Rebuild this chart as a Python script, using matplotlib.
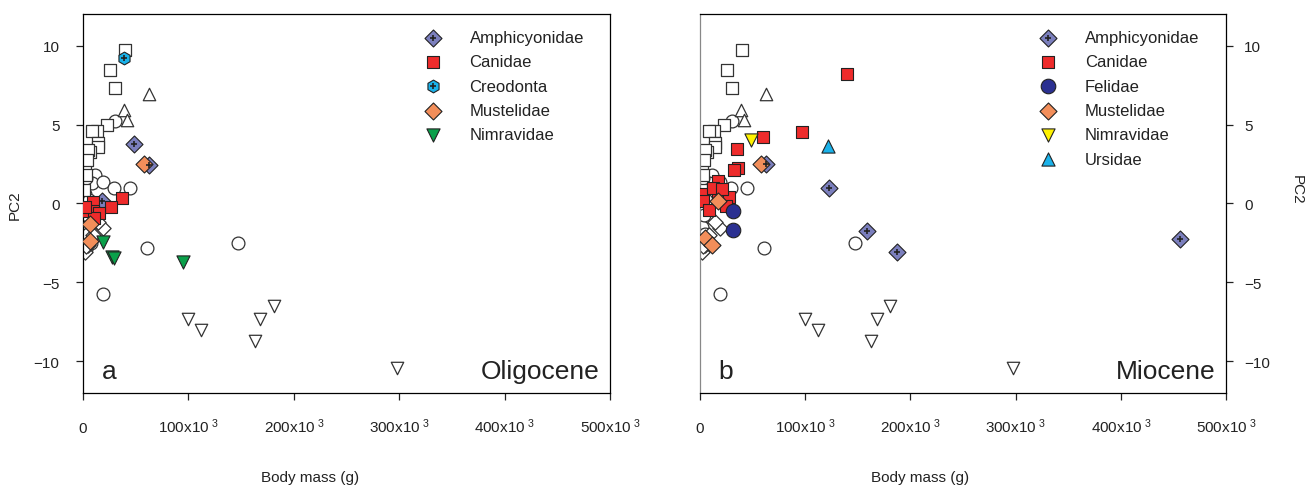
import numpy as np
import matplotlib
matplotlib.use("Agg")
import matplotlib.pyplot as plt
from matplotlib.ticker import MultipleLocator

plt.rcParams['font.family'] = ['Liberation Sans', 'DejaVu Sans']
plt.rcParams['mathtext.fontset'] = 'custom'
plt.rcParams['mathtext.rm'] = 'Liberation Sans'
plt.rcParams['mathtext.it'] = 'Liberation Sans'

# ---------------------------------------------
# axis ticks
xtick_vals = [0, 100000, 200000, 300000, 400000, 500000]
xtick_labels = ['0'] + [f'{v // 1000}x10$^{{\\ 3}}$' for v in xtick_vals[1:]]

# all specimens (open symbols), body mass in g vs PC2
open_sq_x = [39800, 25600, 30400, 22500, 13000, 8200, 14200, 13900, 6600, 5000, 1900, 3500, 1000, 2500]
open_sq_y = [9.70, 8.44, 7.34, 4.96, 4.58, 4.58, 3.80, 3.59, 3.23, 3.37, 2.43, 2.74, 0.84, 1.80]

open_up_x = [62600, 38900, 41400]
open_up_y = [6.92, 5.90, 5.27]

open_ci_x = [30400, 11400, 8200, 19300, 29700, 44600, 60400, 147000, 19300,
             3000, 2000, 1500, 2000, 1500, 3000, 1000, 2500, 5000, 8000, 6000, 4000]
open_ci_y = [5.21, 1.79, 1.27, 1.33, 0.99, 0.99, -2.81, -2.53, -5.76,
             1.60, 0.60, -0.40, -1.00, -1.50, -2.00, -2.40, -2.90, -1.90, -2.50, 0.20, -0.70]

open_di_x = [19300, 14300, 1900, 5000, 3200, 9000]
open_di_y = [-1.58, -1.16, -3.06, -2.64, -2.70, -2.00]

open_dn_x = [99600, 112000, 168000, 181000, 163000, 298000]
open_dn_y = [-7.30, -8.00, -7.30, -6.50, -8.70, -10.40]

# Oligocene families
oli_amph_x = [48400, 62600, 18300]
oli_amph_y = [3.78, 2.43, 0.15]
oli_cani_x = [36700, 9800, 26600, 9800, 500, 15000, 10000, 2000]
oli_cani_y = [0.37, 0.10, -0.24, -0.50, -0.47, -0.60, -0.90, -0.20]
oli_creo_x = [39200]
oli_creo_y = [9.24]
oli_must_x = [58200, 6600, 6600]
oli_must_y = [2.47, -1.30, -2.35]
oli_nimr_x = [19300, 27200, 29700, 95200]
oli_nimr_y = [-2.43, -3.38, -3.48, -3.69]

# Miocene families
mio_amph_x = [62700, 122600, 158400, 187000, 456000]
mio_amph_y = [2.47, 1.01, -1.73, -3.04, -2.25]
mio_cani_x = [139400, 97300, 59600, 35200, 35800, 32300, 16800, 17400, 27900, 3200, 2500, 8600, 24700, 12000, 21000]
mio_cani_y = [8.19, 4.51, 4.18, 3.44, 2.26, 2.15, 1.41, 0.74, 0.42, 0.59, 0.17, -0.38, -0.17, 1.00, 0.90]
mio_feli_x = [31700, 31700]
mio_feli_y = [-0.46, -1.69]
mio_must_x = [57700, 17400, 4800, 11000]
mio_must_y = [2.53, 0.17, -2.20, -2.64]
mio_nimr_x = [48200]
mio_nimr_y = [4.05]
mio_urs_x = [121400]
mio_urs_y = [3.63]

ink = '#222222'


def draw_open(ax):
    kw = dict(facecolor='white', edgecolor='#333333', linewidth=0.9, zorder=2)
    ax.scatter(open_ci_x, open_ci_y, marker='o', s=85, **kw)
    ax.scatter(open_di_x, open_di_y, marker='D', s=60, **kw)
    ax.scatter(open_sq_x, open_sq_y, marker='s', s=65, **kw)
    ax.scatter(open_up_x, open_up_y, marker='^', s=80, **kw)
    ax.scatter(open_dn_x, open_dn_y, marker='v', s=80, **kw)


def family(ax, x, y, marker, color, size, label, cross=False):
    h = ax.scatter(x, y, marker=marker, s=size, facecolor=color, edgecolor=ink,
                   linewidth=0.8, zorder=3)
    if cross:
        c = ax.scatter(x, y, marker='+', s=22, color=ink, linewidth=1.2, zorder=4)
        return (h, c), label
    return h, label


def style_axes(ax, right=False):
    ax.set_xlim(0, 500000)
    ax.set_ylim(-12, 12)
    ax.set_xticks(xtick_vals, xtick_labels, va='baseline')
    ax.yaxis.set_major_locator(MultipleLocator(5))
    ax.tick_params(axis='x', direction='out', length=5, width=0.9, pad=23,
                   labelsize=11, colors=ink)
    ax.tick_params(axis='y', direction='out', length=5, width=0.9, labelsize=11,
                   colors=ink, pad=12 if not right else 8)
    if right:
        ax.yaxis.tick_right()
        ax.spines['left'].set_color('#888888')
    for s in ax.spines.values():
        s.set_linewidth(0.9)


def add_legend(ax, hl, x0):
    ax.legend([h for h, _ in hl], [l for _, l in hl], loc='upper left',
              bbox_to_anchor=(x0, 0.958), frameon=False, fontsize=12,
              handlelength=1.2, handletextpad=1.6, labelspacing=0.56,
              borderpad=0, borderaxespad=0, labelcolor=ink)


fig = plt.figure(figsize=(13.14, 4.89), dpi=100)
ax1 = fig.add_axes([0.0632, 0.1943, 0.401, 0.775])
ax2 = fig.add_axes([0.5327, 0.1943, 0.4003, 0.775])

# ---------------------------------------------
# a: Oligocene
draw_open(ax1)
hl = [
    family(ax1, oli_amph_x, oli_amph_y, 'D', '#7b7fbd', 75, 'Amphicyonidae', cross=True),
    family(ax1, oli_cani_x, oli_cani_y, 's', '#ee2b2b', 80, 'Canidae'),
    family(ax1, oli_creo_x, oli_creo_y, 'h', '#1ab2ea', 85, 'Creodonta', cross=True),
    family(ax1, oli_must_x, oli_must_y, 'D', '#f28e5a', 75, 'Mustelidae'),
    family(ax1, oli_nimr_x, oli_nimr_y, 'v', '#0aa04a', 90, 'Nimravidae'),
]
style_axes(ax1)
add_legend(ax1, hl, 0.645)
ax1.text(0.035, 0.04, 'a', transform=ax1.transAxes, fontsize=19, color=ink)
ax1.text(0.98, 0.04, 'Oligocene', transform=ax1.transAxes, fontsize=19,
         color=ink, ha='right')

# ---------------------------------------------
# b: Miocene
draw_open(ax2)
hl = [
    family(ax2, mio_amph_x, mio_amph_y, 'D', '#7b7fbd', 75, 'Amphicyonidae', cross=True),
    family(ax2, mio_cani_x, mio_cani_y, 's', '#ee2b2b', 80, 'Canidae'),
    family(ax2, mio_feli_x, mio_feli_y, 'o', '#2b3091', 110, 'Felidae'),
    family(ax2, mio_must_x, mio_must_y, 'D', '#f28e5a', 75, 'Mustelidae'),
    family(ax2, mio_nimr_x, mio_nimr_y, 'v', '#fff200', 90, 'Nimravidae'),
    family(ax2, mio_urs_x, mio_urs_y, '^', '#1ab2ea', 90, 'Ursidae'),
]
style_axes(ax2, right=True)
add_legend(ax2, hl, 0.643)
ax2.text(0.035, 0.04, 'b', transform=ax2.transAxes, fontsize=19, color=ink)
ax2.text(0.98, 0.04, 'Miocene', transform=ax2.transAxes, fontsize=19,
         color=ink, ha='right')

fig.text(15 / 1314, 1 - 205 / 489, 'PC2', rotation=90, ha='center', va='center',
         fontsize=11, color=ink)
fig.text(1297 / 1314, 1 - 190 / 489, 'PC2', rotation=270, ha='center', va='center',
         fontsize=11, color=ink)
fig.text(310 / 1314, 1 - 478 / 489, 'Body mass (g)', ha='center', va='center',
         fontsize=11, color=ink)
fig.text(920 / 1314, 1 - 478 / 489, 'Body mass (g)', ha='center', va='center',
         fontsize=11, color=ink)

fig.savefig('out.png', dpi=100)
